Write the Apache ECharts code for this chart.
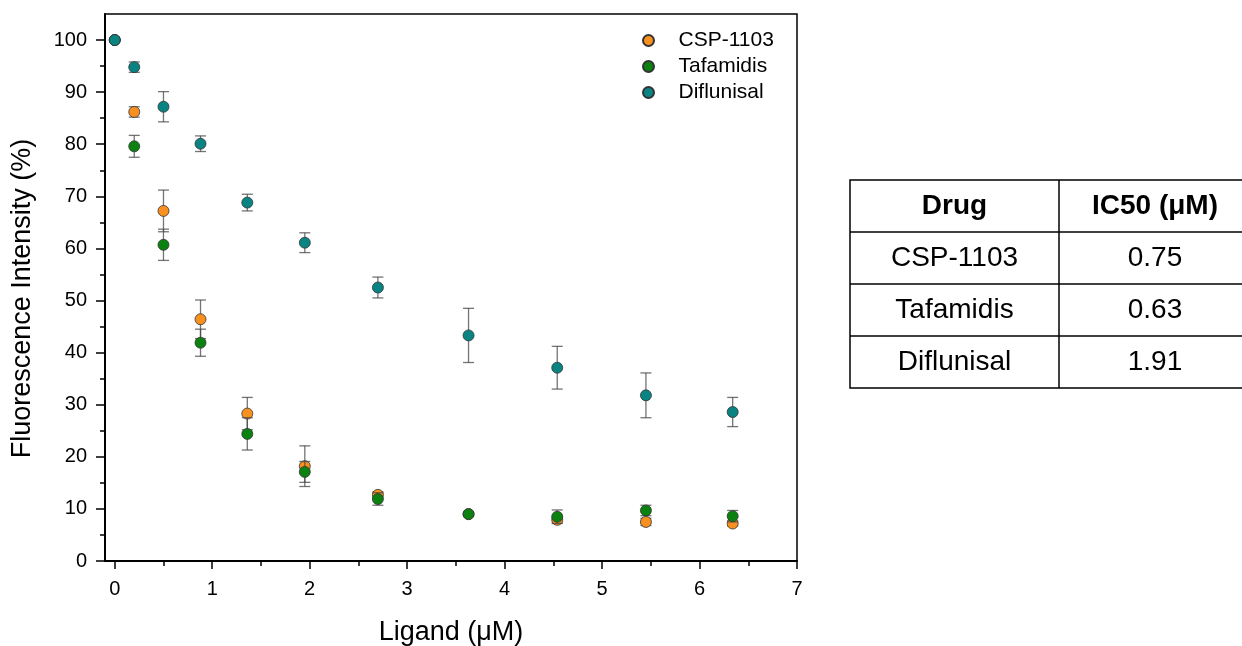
<!DOCTYPE html>
<html>
<head>
<meta charset="utf-8">
<script src="https://cdn.jsdelivr.net/npm/echarts@6/dist/echarts.min.js"></script>
<style>
  html, body { margin: 0; padding: 0; background: #fff; }
  #chart { width: 1242px; height: 646px; }
</style>
</head>
<body>
<div id="chart"></div>
<script>
// concentrations (x)
var ligand = [0, 0.2, 0.5, 0.88, 1.36, 1.95, 2.7, 3.63, 4.54, 5.45, 6.34];

// mean fluorescence (%) and error (+/-)
var cspMean = [100, 86.2, 67.2, 46.4, 28.3, 18.2, 12.7, 9.0, 7.9, 7.5, 7.2];
var cspErr  = [0, 1.0, 4.0, 3.7, 3.1, 3.9, 0.6, 0.3, 0.6, 0.7, 0.5];
var tafMean = [100, 79.6, 60.7, 41.9, 24.4, 17.1, 11.9, 9.0, 8.5, 9.7, 8.6];
var tafErr  = [0, 2.1, 3.0, 2.6, 3.1, 2.0, 1.2, 0.3, 1.3, 1.0, 1.1];
var difMean = [100, 94.8, 87.2, 80.1, 68.8, 61.1, 52.5, 43.3, 37.1, 31.8, 28.6];
var difErr  = [0, 1.0, 2.9, 1.5, 1.6, 1.9, 2.0, 5.2, 4.1, 4.3, 2.8];

var seriesNames = ['CSP-1103', 'Tafamidis', 'Diflunisal'];
var seriesColors = ['#f7901e', '#0b8210', '#0a8383'];

// tick labels
var xTicks = [0, 1, 2, 3, 4, 5, 6, 7];
var xMinor = [0.5, 1.5, 2.5, 3.5, 4.5, 5.5, 6.5];
var yTicks = [0, 10, 20, 30, 40, 50, 60, 70, 80, 90, 100];
var yMinor = [5, 15, 25, 35, 45, 55, 65, 75, 85, 95];

// table on the right
var tableHead = ['Drug', 'IC50 (\u03bcM)'];
var tableDrugs = ['CSP-1103', 'Tafamidis', 'Diflunisal'];
var tableIC50 = ['0.75', '0.63', '1.91'];

var FONT = 'Liberation Sans, Arial, sans-serif';

function points(mean) {
    return ligand.map(function (x, i) { return [x, mean[i]]; });
}
function bars(mean, err) {
    return ligand.map(function (x, i) { return [x, mean[i] - err[i], mean[i] + err[i]]; });
}

// error bar: vertical line + caps
function renderErr(params, api) {
    var x = api.value(0);
    var top = api.coord([x, api.value(2)]);
    var bot = api.coord([x, api.value(1)]);
    var hw = 5.5;
    var st = { stroke: 'rgba(70,70,70,0.75)', lineWidth: 1.3 };
    return {
        type: 'group',
        children: [
            { type: 'line', shape: { x1: top[0], y1: top[1], x2: bot[0], y2: bot[1] }, style: st },
            { type: 'line', shape: { x1: top[0] - hw, y1: top[1], x2: top[0] + hw, y2: top[1] }, style: st },
            { type: 'line', shape: { x1: bot[0] - hw, y1: bot[1], x2: bot[0] + hw, y2: bot[1] }, style: st }
        ]
    };
}

var means = [cspMean, tafMean, difMean];
var errs = [cspErr, tafErr, difErr];
var series = [];
for (var s = 0; s < 3; s++) {
    series.push({
        name: seriesNames[s] + ' err',
        type: 'custom',
        renderItem: renderErr,
        data: bars(means[s], errs[s]),
        encode: { x: 0, y: [1, 2] },
        silent: true,
        z: 2 + s * 2
    });
    series.push({
        name: seriesNames[s],
        type: 'scatter',
        data: points(means[s]),
        symbol: 'circle',
        symbolSize: 11,
        itemStyle: { color: seriesColors[s], borderColor: '#333', borderWidth: 0.8, opacity: 1 },
        z: 3 + s * 2
    });
}

// table graphic
var tX = [850, 1059, 1251];
var tY = 180, rowH = 52;
var nRows = tableDrugs.length + 1;
var graphics = [];
graphics.push({
    type: 'rect',
    shape: { x: tX[0], y: tY, width: tX[2] - tX[0], height: rowH * nRows },
    style: { fill: 'none', stroke: '#000', lineWidth: 1.5 }
});
graphics.push({
    type: 'line',
    shape: { x1: tX[1], y1: tY, x2: tX[1], y2: tY + rowH * nRows },
    style: { stroke: '#000', lineWidth: 1.5 }
});
for (var r = 1; r < nRows; r++) {
    graphics.push({
        type: 'line',
        shape: { x1: tX[0], y1: tY + rowH * r, x2: tX[2], y2: tY + rowH * r },
        style: { stroke: '#000', lineWidth: 1.5 }
    });
}
function cellText(txt, col, row, bold) {
    return {
        type: 'text',
        x: (tX[col] + tX[col + 1]) / 2,
        y: tY + rowH * row + rowH / 2,
        style: {
            text: txt, fill: '#000', font: (bold ? 'bold ' : '') + '28px ' + FONT,
            align: 'center', verticalAlign: 'middle'
        }
    };
}
graphics.push(cellText(tableHead[0], 0, 0, true));
graphics.push(cellText(tableHead[1], 1, 0, true));
for (var i = 0; i < tableDrugs.length; i++) {
    graphics.push(cellText(tableDrugs[i], 0, i + 1, false));
    graphics.push(cellText(tableIC50[i], 1, i + 1, false));
}

var chart = echarts.init(document.getElementById('chart'));
chart.setOption({
    backgroundColor: '#fff',
    animation: false,
    textStyle: { fontFamily: FONT },
    grid: {
        left: 105, top: 14, right: 445, bottom: 85,
        outerBoundsMode: 'none',
        containLabel: false,
        show: true, borderColor: '#000', borderWidth: 1.5, backgroundColor: 'transparent'
    },
    legend: {
        data: seriesNames,
        orient: 'vertical',
        left: 637,
        top: 25,
        itemWidth: 50,
        itemHeight: 11,
        itemGap: 5,
        icon: 'circle',
        textStyle: { fontSize: 21, color: '#000', fontFamily: FONT }
    },
    xAxis: [{
        type: 'value',
        min: -0.1, max: 7,
        name: 'Ligand (\u03bcM)',
        nameLocation: 'middle',
        nameGap: 58,
        nameTextStyle: { fontSize: 27, color: '#000' },
        axisLine: { onZero: false, lineStyle: { color: '#000', width: 2 } },
        axisTick: { customValues: xTicks, length: 8, inside: false, lineStyle: { color: '#000', width: 1.5 } },
        axisLabel: { customValues: xTicks, fontSize: 20, color: '#000', margin: 18 },
        splitLine: { show: false }
    }, {
        type: 'value',
        min: -0.1, max: 7,
        position: 'bottom',
        axisLine: { show: false, onZero: false },
        axisTick: { customValues: xMinor, length: 5, lineStyle: { color: '#000', width: 1.5 } },
        axisLabel: { show: false },
        splitLine: { show: false }
    }],
    yAxis: [{
        type: 'value',
        min: 0, max: 105,
        name: 'Fluorescence Intensity (%)',
        nameLocation: 'middle',
        nameGap: 69,
        nameTextStyle: { fontSize: 27, color: '#000', padding: [0, 22, 0, 0] },
        axisLine: { onZero: false, lineStyle: { color: '#000', width: 2 } },
        axisTick: { customValues: yTicks, length: 9, lineStyle: { color: '#000', width: 1.5 } },
        axisLabel: { customValues: yTicks, fontSize: 20, color: '#000', margin: 18 },
        splitLine: { show: false }
    }, {
        type: 'value',
        min: 0, max: 105,
        position: 'left',
        axisLine: { show: false, onZero: false },
        axisTick: { customValues: yMinor, length: 5, lineStyle: { color: '#000', width: 1.5 } },
        axisLabel: { show: false },
        splitLine: { show: false }
    }],
    series: series,
    graphic: graphics
});
</script>
</body>
</html>
